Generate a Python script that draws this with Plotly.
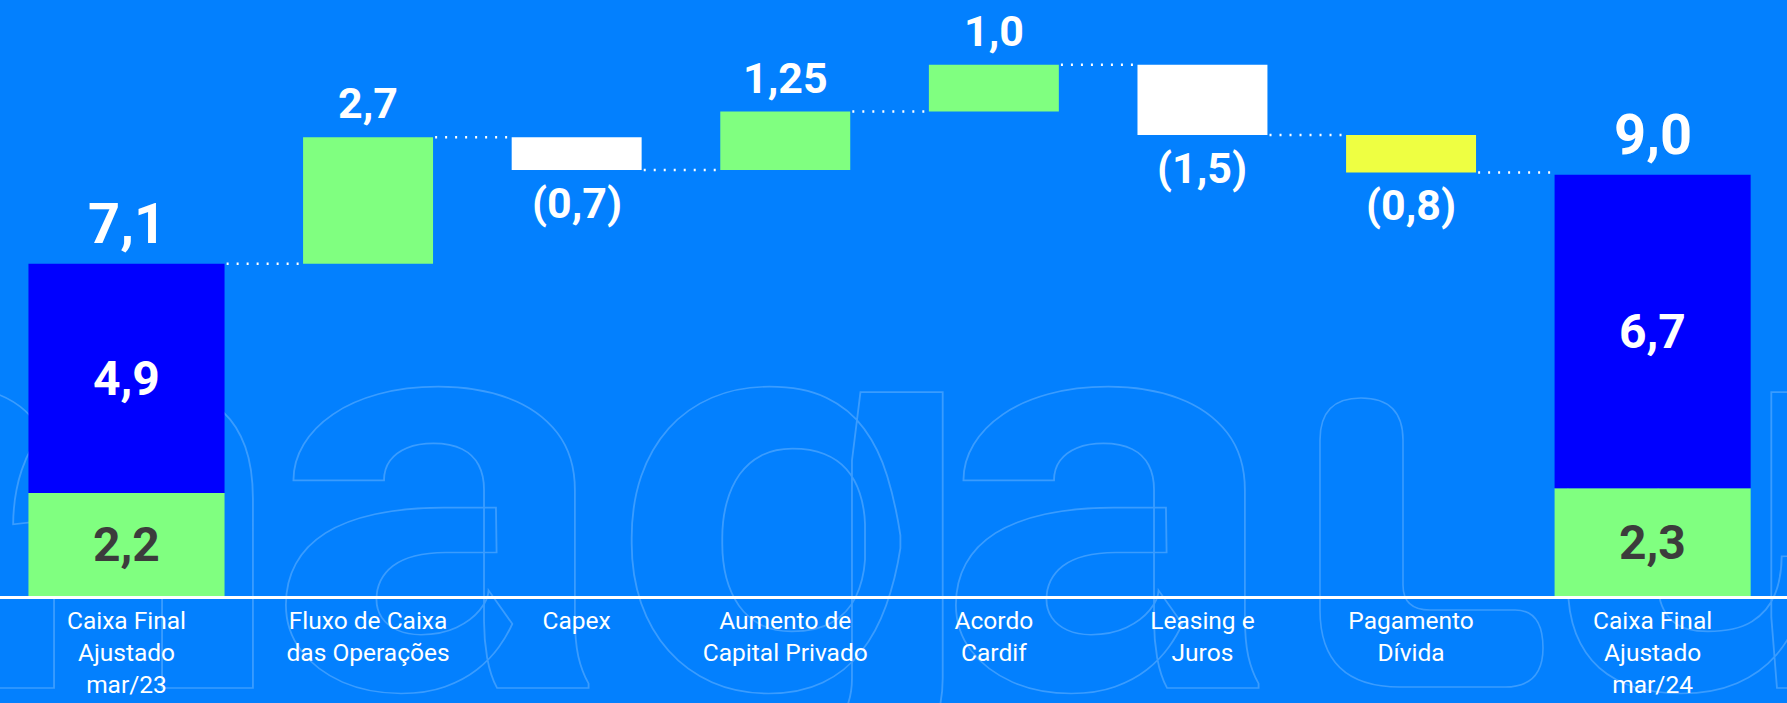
import base64
import plotly.graph_objects as go

# ---------------- data ----------------
categories = [
    "Caixa Final<br>Ajustado<br>mar/23",
    "Fluxo de Caixa<br>das Operações",
    "Capex",
    "Aumento de<br>Capital Privado",
    "Acordo<br>Cardif",
    "Leasing e<br>Juros",
    "Pagamento<br>Dívida",
    "Caixa Final<br>Ajustado<br>mar/24",
]
opening_parts = [2.2, 4.9]      # lower (green), upper (blue)
opening_total = 7.1
deltas = [2.7, -0.7, 1.25, 1.0, -1.5, -0.8]
closing_parts = [2.3, 6.7]
closing_total = 9.0

# ---------------- style ----------------
BG = "#0380FE"
GREEN = "#80FF80"
BLUE = "#0000FF"
WHITE = "#FFFFFF"
YELLOW = "#EEFF42"
DARK = "#3C3C3C"
FONT = "Roboto"
delta_colors = [GREEN, WHITE, GREEN, GREEN, WHITE, YELLOW]
TOTAL_W = 0.94
STEP_W = 0.623
END_GAP = 0.158


def fmt(v):
    s = f"{abs(v):.2f}".rstrip("0")
    if s.endswith("."):
        s += "0"
    s = s.replace(".", ",")
    return f"({s})" if v < 0 else s


n = len(categories)
xpos = [i + END_GAP * (i > 0) + END_GAP * (i == n - 1) for i in range(n)]
widths = [TOTAL_W] + [STEP_W] * len(deltas) + [TOTAL_W]

fig = go.Figure()

# totals (stacked green + blue)
tot_x = [xpos[0], xpos[-1]]
fig.add_trace(go.Bar(x=tot_x, y=[opening_parts[0], closing_parts[0]], base=[0, 0],
                     width=TOTAL_W, marker=dict(color=GREEN, line=dict(width=0)),
                     hoverinfo="skip"))
fig.add_trace(go.Bar(x=tot_x, y=[opening_parts[1], closing_parts[1]],
                     base=[opening_parts[0], closing_parts[0]],
                     width=TOTAL_W, marker=dict(color=BLUE, line=dict(width=0)),
                     hoverinfo="skip"))

# steps
levels = [opening_total]
for d in deltas:
    levels.append(levels[-1] + d)
step_base = [min(levels[i], levels[i + 1]) for i in range(len(deltas))]
step_h = [abs(d) for d in deltas]
fig.add_trace(go.Bar(x=xpos[1:-1], y=step_h, base=step_base, width=STEP_W,
                     marker=dict(color=delta_colors, line=dict(width=0)),
                     hoverinfo="skip"))

# connectors
shapes = []
for i in range(n - 1):
    lvl = levels[i] if i < len(levels) else levels[-1]
    x0 = xpos[i] + widths[i] / 2 + 0.01
    x1 = xpos[i + 1] - widths[i + 1] / 2 - 0.01
    shapes.append(dict(type="line", xref="x", yref="y", x0=x0, x1=x1, y0=lvl, y1=lvl,
                       line=dict(color=WHITE, width=2.5, dash="2px,8px")))

# labels
ann = []
for xv, tot in [(xpos[0], opening_total), (xpos[-1], closing_total)]:
    ann.append(dict(x=xv, y=tot, text=fmt(tot), showarrow=False, yanchor="bottom", yshift=5,
                    font=dict(family=FONT, size=56, color=WHITE, weight=700)))
for xv, parts in [(xpos[0], opening_parts), (xpos[-1], closing_parts)]:
    ann.append(dict(x=xv, y=parts[0] / 2, text=fmt(parts[0]), showarrow=False, yanchor="middle",
                    font=dict(family=FONT, size=48, color=DARK, weight=700)))
    ann.append(dict(x=xv, y=parts[0] + parts[1] / 2, text=fmt(parts[1]), showarrow=False,
                    yanchor="middle", font=dict(family=FONT, size=48, color=WHITE, weight=700)))
for i, d in enumerate(deltas):
    xv = xpos[i + 1]
    if d >= 0:
        ann.append(dict(x=xv, y=levels[i + 1], text=fmt(d), showarrow=False, yanchor="bottom",
                        yshift=7, font=dict(family=FONT, size=43, color=WHITE, weight=700)))
    else:
        ann.append(dict(x=xv, y=levels[i + 1], text=fmt(d), showarrow=False, yanchor="top",
                        yshift=-6, font=dict(family=FONT, size=43, color=WHITE, weight=700)))

# watermark (outlined "magalu")
svg = """<svg xmlns="http://www.w3.org/2000/svg" width="1787" height="703" viewBox="0 0 1787 703">
<g fill="none" stroke="rgba(255,255,255,0.22)" stroke-width="1.6" font-family="Roboto" font-weight="700" font-size="560">
<text transform="translate(-270,688) scale(1.15,1)">m</text>
<text transform="translate(265,688) scale(1.15,1)">a</text>
<text transform="translate(610,688) scale(1.15,1)">g</text>
<text transform="translate(935,688) scale(1.15,1)">a</text>
<text transform="translate(1535,688) scale(1.15,1)">u</text>
<path d="M 1320 440 Q 1320 398 1361 398 Q 1403 398 1403 440 L 1403 585 Q 1403 610 1430 610 L 1515 610 Q 1543 610 1543 648 Q 1543 687 1505 687 L 1400 687 Q 1320 687 1320 610 Z"/>
</g></svg>"""
src = "data:image/svg+xml;base64," + base64.b64encode(svg.encode()).decode()

W, H, B = 1787, 703, 107
plot_h = H - B
px_per_unit = 46.8
x_px_per_unit = 208.6
r0 = -126.5 / x_px_per_unit
r1 = r0 + W / x_px_per_unit

fig.update_layout(
    template="none",
    width=W, height=H,
    margin=dict(l=0, r=0, t=0, b=B, pad=0),
    paper_bgcolor=BG, plot_bgcolor="rgba(0,0,0,0)",
    showlegend=False, barmode="overlay",
    shapes=shapes, annotations=ann,
    images=[dict(source=src, xref="paper", yref="paper", x=0, y=1, sizex=1,
                 sizey=H / plot_h, xanchor="left", yanchor="top", sizing="stretch",
                 layer="below")],
    xaxis=dict(range=[r0, r1], tickvals=xpos, ticktext=categories, showgrid=False,
               zeroline=False, showline=True, linecolor=WHITE, linewidth=3, ticks="",
               ticklabelstandoff=1,
               tickfont=dict(family=FONT, size=24.5, color=WHITE), automargin=False),
    yaxis=dict(range=[0, plot_h / px_per_unit], visible=False, showgrid=False,
               zeroline=False, automargin=False),
)

fig.write_html(
    "out.html",
    config={"displayModeBar": False},
    post_script="document.body.style.margin='0';document.body.style.overflow='hidden';"
                "document.body.style.background='" + BG + "';",
)
